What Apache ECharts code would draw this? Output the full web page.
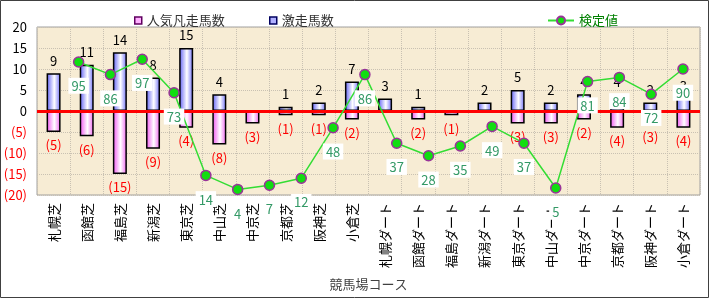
<!DOCTYPE html>
<html><head><meta charset="utf-8">
<script src="https://cdn.jsdelivr.net/npm/echarts@6/dist/echarts.min.js"></script>
<style>html,body{margin:0;padding:0;background:#fff}#c{width:710px;height:299px}</style>
</head><body><div id="c"></div>
<script>
const categories = ['札幌芝','函館芝','福島芝','新潟芝','東京芝','中山芝','中京芝','京都芝','阪神芝','小倉芝',
  '札幌ダート','函館ダート','福島ダート','新潟ダート','東京ダート','中山ダート','中京ダート','京都ダート','阪神ダート','小倉ダート'];
const gekisou = [9, 11, 14, 8, 15, 4, 0, 1, 2, 7, 3, 1, 0, 2, 5, 2, 4, 4, 2, 3];
const ninkiBonsou = [5, 6, 15, 9, 4, 8, 3, 1, 1, 2, 0, 2, 1, 0, 3, 3, 2, 4, 3, 4];
const kenteichi = [95, 86, 97, 73, 14, 4, 7, 12, 48, 86, 37, 28, 35, 49, 37, 5, 81, 84, 72, 90];

const FONT = 'Noto Sans CJK JP';
const chart = echarts.init(document.getElementById('c'));
const blueGrad = new echarts.graphic.LinearGradient(0,0,1,0,[
  {offset:0,color:'#5c5cf5'},{offset:0.55,color:'#ffffff'},{offset:1,color:'#6c6cf8'}]);
const pinkGrad = new echarts.graphic.LinearGradient(0,0,1,0,[
  {offset:0,color:'#f050f0'},{offset:0.55,color:'#ffffff'},{offset:1,color:'#f060f0'}]);

chart.setOption({
  animation:false,
  textStyle:{fontFamily:FONT},
  graphic:[{type:'rect',shape:{x:0.5,y:0.5,width:708,height:297},style:{fill:'none',stroke:'#404040',lineWidth:1},z:100}],
  legend:[
    {left:129,top:9,itemWidth:7,itemHeight:7,textStyle:{fontSize:13,color:'#333',fontFamily:FONT},
     data:[{name:'人気凡走馬数',icon:'rect',itemStyle:{color:'#ffb0ff',borderColor:'#600060',borderWidth:1.5}}]},
    {left:264,top:9,itemWidth:7,itemHeight:7,textStyle:{fontSize:13,color:'#333',fontFamily:FONT},
     data:[{name:'激走馬数',icon:'rect',itemStyle:{color:'#b0b0ff',borderColor:'#000060',borderWidth:1.5}}]},
    {left:542,top:9,itemWidth:26,itemHeight:10,textStyle:{fontSize:13,color:'#008000',fontFamily:FONT},
     data:['検定値']}
  ],
  grid:{left:37,right:10,top:27,height:168,show:true,backgroundColor:'#f7ecd4',borderColor:'#a0a0a0',borderWidth:1},
  xAxis:[
    {type:'category',data:categories,
     axisLine:{show:false},axisTick:{show:false},
     splitLine:{show:true,interval:0,lineStyle:{color:'#c9c1b2',type:'dotted'}},
     axisLabel:{rotate:90,interval:0,fontSize:13,color:'#000',margin:8,fontFamily:FONT},
     name:'競馬場コース',nameLocation:'middle',nameGap:83,
     nameTextStyle:{fontSize:13,color:'#404040',fontFamily:FONT}},
    {type:'value',min:-1.3086,max:19.535,show:false}
  ],
  yAxis:[
    {type:'value',min:-20,max:20,interval:5,
     axisLine:{show:false},axisTick:{show:false},
     splitLine:{show:true,lineStyle:{color:'#c9c1b2',type:'dotted'}},
     axisLabel:{fontSize:13,margin:10,fontFamily:FONT,
       formatter:v=>v<0?'('+(-v)+')':String(v),
       color:v=>v<0?'#ff0000':'#000'}},
    {type:'value',min:0,max:120,show:false}
  ],
  series:[
    {name:'激走馬数',type:'bar',stack:'s',barWidth:14,
     data:gekisou.map(v=>v===0?'-':v),
     itemStyle:{color:blueGrad,borderColor:'#000',borderWidth:1.5},
     label:{show:true,position:'top',distance:6,fontSize:13,color:'#000',fontFamily:FONT}},
    {name:'人気凡走馬数',type:'bar',stack:'s',barWidth:14,
     data:ninkiBonsou.map(v=>v===0?'-':-v),
     itemStyle:{color:pinkGrad,borderColor:'#000',borderWidth:1.5},
     label:{show:true,position:'bottom',distance:7,fontSize:13,color:'#ff0000',fontFamily:FONT,
       formatter:p=>'('+(-p.value)+')'},
     markLine:{silent:true,symbol:'none',label:{show:false},
       lineStyle:{color:'#ff0000',width:3,type:'solid'},data:[{yAxis:0}]}},
    {name:'検定値',type:'line',xAxisIndex:1,yAxisIndex:1,
     data:kenteichi.map((v,i)=>[i,v]),
     symbol:'circle',symbolSize:10,
     lineStyle:{color:'#33dd33',width:1.5},
     itemStyle:{color:'#11dd11',borderColor:'#993399',borderWidth:1.5},
     label:{show:true,position:'bottom',distance:10,fontSize:13,color:'#339966',
       backgroundColor:'#fff',padding:[2,3,1,3],fontFamily:FONT,formatter:p=>p.value[1]},
     z:5}
  ]
});
</script></body></html>
